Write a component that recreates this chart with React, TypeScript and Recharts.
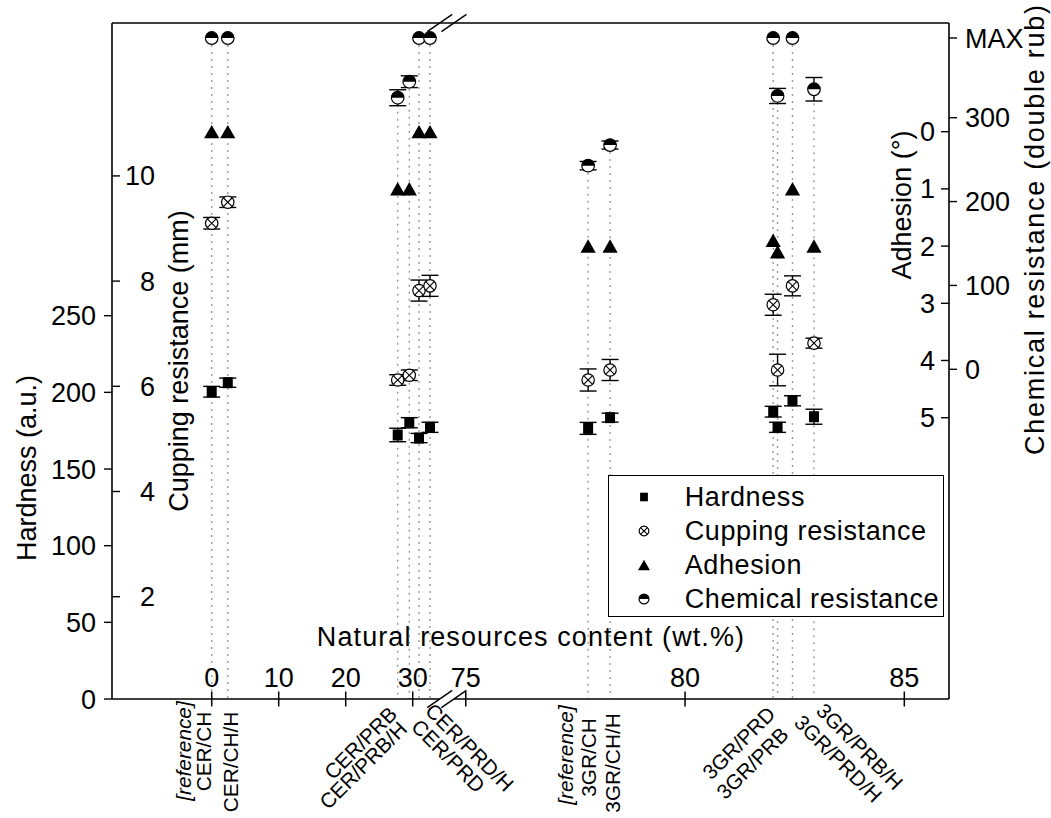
import React from 'react';
import { ScatterChart, Scatter, XAxis, YAxis, ErrorBar, ReferenceLine, Legend } from 'recharts';

// ---------------- data ----------------
const SAMPLES = ['CER/CH', 'CER/CH/H', 'CER/PRB', 'CER/PRB/H', 'CER/PRD', 'CER/PRD/H', '3GR/CH', '3GR/CH/H', '3GR/PRD', '3GR/PRB', '3GR/PRD/H', '3GR/PRB/H'];
const CONTENT = [0, 2.4, 27.76, 29.49, 30.94, 32.58, 77.79, 78.29, 82.01, 82.11, 82.45, 82.94];
const HARDNESS = [200.4, 206.3, 172.2, 180.2, 170.2, 177.2, 176.5, 183.5, 187.4, 177.2, 194.5, 184.1];
const HARDNESS_ERR = [3.5, 3, 4.4, 3.3, 3, 3.3, 3.9, 2.9, 3.5, 3.3, 3.3, 4.9];
const CUPPING = [9.1, 9.5, 6.12, 6.21, 7.82, 7.91, 6.12, 6.31, 7.55, 6.31, 7.91, 6.82];
const CUPPING_ERR = [0.11, 0.1, 0.1, 0.1, 0.2, 0.2, 0.21, 0.2, 0.2, 0.3, 0.19, 0.095];
const ADHESION = [0, 0, 1, 1, 0, 0, 2, 2, 1.9, 2.1, 1, 2];
const CHEM_MAX = 395;
const CHEMICAL = [CHEM_MAX, CHEM_MAX, 323.8, 342.9, CHEM_MAX, CHEM_MAX, 242.8, 267.4, CHEM_MAX, 325.9, CHEM_MAX, 333.9];
const CHEMICAL_ERR = [0, 0, 9.5, 7, 0, 0, 5, 4.8, 0, 9, 0, 14];

const SAMPLE_LABELS = [
  ['[reference]', 'CER/CH'], ['CER/CH/H'], ['CER/PRB'], ['CER/PRB/H'], ['CER/PRD'], ['CER/PRD/H'],
  ['[reference]', '3GR/CH'], ['3GR/CH/H'], ['3GR/PRD'], ['3GR/PRB'], ['3GR/PRD/H'], ['3GR/PRB/H'],
];

const X_TICKS = [0, 10, 20, 30, 75, 80, 85];
const HARDNESS_TICKS = [0, 50, 100, 150, 200, 250];
const CUPPING_TICKS = [2, 4, 6, 8, 10];
const ADHESION_TICKS = [0, 1, 2, 3, 4, 5];
const CHEM_TICKS = [0, 100, 200, 300, CHEM_MAX];
const CHEM_TICK_LABELS = ['0', '100', '200', '300', 'MAX'];

const SERIES_NAMES = ['Hardness', 'Cupping resistance', 'Adhesion', 'Chemical resistance'];

// ---------------- broken x scale ----------------
const BREAK_WT = 50;
const RIGHT_START = 75;
const RIGHT_OFFSET = 37.92;
const RIGHT_RATIO = 6.545;
const brokenX = (wt: number) => (wt < BREAK_WT ? wt : RIGHT_OFFSET + (wt - RIGHT_START) * RIGHT_RATIO);
const X_DOMAIN: [number, number] = [-14.88, 110.04];
const BREAK_MARKS = [34.03, 36.15];
const SLASH_DX = 1.87;
const SLASH_DY = 5.67;

const HARD_DOMAIN: [number, number] = [0, 440.9];
const CUP_DOMAIN: [number, number] = [0.055, 12.907];
const ADH_DOMAIN: [number, number] = [-1.9, 9.918];
const CHEM_DOMAIN: [number, number] = [-393.1, 412.9];

const X_TICKS_U = X_TICKS.map(brokenX);
const SAMPLE_U = CONTENT.map(brokenX);

const hardData = SAMPLES.map((s, i) => ({ name: s, x: SAMPLE_U[i], y: HARDNESS[i], err: HARDNESS_ERR[i] }));
const cupData = SAMPLES.map((s, i) => ({ name: s, x: SAMPLE_U[i], y: CUPPING[i], err: CUPPING_ERR[i] }));
const adhData = SAMPLES.map((s, i) => ({ name: s, x: SAMPLE_U[i], y: ADHESION[i] }));
const chemData = SAMPLES.map((s, i) => ({ name: s, x: SAMPLE_U[i], y: CHEMICAL[i], err: CHEMICAL_ERR[i] }));

// ---------------- styles ----------------
const FONT = '"Liberation Sans", Arial, Helvetica, sans-serif';
const FS = 27;
const LABEL_FS = 20.8;
const AXIS_STROKE = '#000';

const LABEL_LAYOUT: { rot: number; anchor: string; base: string; off: number[][] }[] = [
  { rot: -90, anchor: 'middle', base: 'central', off: [[-28.4, 52], [-8.4, 52.5]] },
  { rot: -90, anchor: 'end', base: 'central', off: [[2.3, 12.7]] },
  { rot: -45, anchor: 'end', base: 'alphabetic', off: [[0.6, 16.5]] },
  { rot: -45, anchor: 'end', base: 'alphabetic', off: [[-1, 31.5]] },
  { rot: 45, anchor: 'start', base: 'alphabetic', off: [[-9, 29]] },
  { rot: 45, anchor: 'start', base: 'alphabetic', off: [[-6, 13]] },
  { rot: -90, anchor: 'middle', base: 'central', off: [[-22.5, 56], [0.7, 58.5]] },
  { rot: -90, anchor: 'end', base: 'central', off: [[2.5, 14.3]] },
  { rot: -45, anchor: 'end', base: 'alphabetic', off: [[3.4, 16.5]] },
  { rot: -45, anchor: 'end', base: 'alphabetic', off: [[12.3, 37]] },
  { rot: 45, anchor: 'start', base: 'alphabetic', off: [[0.6, 24.8]] },
  { rot: 45, anchor: 'start', base: 'alphabetic', off: [[1, 13]] },
];

function marker(kind: string, cx: number, cy: number, s = 1) {
  if (cx == null || cy == null || isNaN(cx) || isNaN(cy)) return <g />;
  switch (kind) {
    case 'hard':
      return <rect x={cx - 5 * s} y={cy - 5.5 * s} width={10 * s} height={11 * s} fill="#000" />;
    case 'cup': {
      const r = 6.2 * s;
      const d = r * 0.72;
      return (
        <g>
          <circle cx={cx} cy={cy} r={r} fill="#fff" stroke="#000" strokeWidth={1.2} />
          <line x1={cx - d} y1={cy - d} x2={cx + d} y2={cy + d} stroke="#000" strokeWidth={1.1} />
          <line x1={cx - d} y1={cy + d} x2={cx + d} y2={cy - d} stroke="#000" strokeWidth={1.1} />
        </g>
      );
    }
    case 'adh':
      return <path d={`M${cx},${cy - 6.8 * s} L${cx + 7.6 * s},${cy + 6.6 * s} L${cx - 7.6 * s},${cy + 6.6 * s} Z`} fill="#000" />;
    default: {
      const r = 6.3 * s;
      return (
        <g>
          <circle cx={cx} cy={cy} r={r} fill="#fff" stroke="#000" strokeWidth={1.2} />
          <path d={`M${cx - r},${cy} A${r},${r} 0 0 1 ${cx + r},${cy} Z`} fill="#000" />
        </g>
      );
    }
  }
}

const KIND_BY_NAME: Record<string, string> = {
  Hardness: 'hard',
  'Cupping resistance': 'cup',
  Adhesion: 'adh',
  'Chemical resistance': 'chem',
};

const findIndex = (arr: number[], v: number) => {
  let best = 0;
  arr.forEach((a, i) => {
    if (Math.abs(a - v) < Math.abs(arr[best] - v)) best = i;
  });
  return best;
};

const XNumTick = (props: any) => {
  const { x, y, payload } = props;
  const i = findIndex(X_TICKS_U, payload.value);
  return (
    <g>
      <line x1={x} y1={y - 7.5} x2={x} y2={y + 7.5} stroke="#000" strokeWidth={1.5} />
      <text x={x} y={y - 12} textAnchor="middle" fontSize={FS} fontFamily={FONT} fill="#000">
        {X_TICKS[i]}
      </text>
    </g>
  );
};

const SampleTick = (props: any) => {
  const { x, y, payload } = props;
  const i = findIndex(SAMPLE_U, payload.value);
  const lay = LABEL_LAYOUT[i];
  return (
    <g>
      {SAMPLE_LABELS[i].map((t, k) => (
        <text
          key={k}
          transform={`translate(${x + lay.off[k][0]},${y + lay.off[k][1]}) rotate(${lay.rot})`}
          textAnchor={lay.anchor as any}
          dominantBaseline={lay.base as any}
          fontStyle={t.startsWith('[') ? 'italic' : 'normal'}
          fontSize={LABEL_FS}
          fontFamily={FONT}
          fill="#000"
        >
          {t}
        </text>
      ))}
    </g>
  );
};

const CupTick = (props: any) => {
  const { x, y, payload } = props;
  return (
    <text x={x + 35} y={y} dy="0.355em" textAnchor="end" fontSize={FS} fontFamily={FONT} fill="#000">
      {payload.value}
    </text>
  );
};

const ChemTick = (props: any) => {
  const { x, y, payload } = props;
  const i = findIndex(CHEM_TICKS, payload.value);
  return (
    <text x={x} y={y} dy="0.355em" textAnchor="start" fontSize={FS} fontFamily={FONT} fill="#000">
      {CHEM_TICK_LABELS[i]}
    </text>
  );
};

const vText = (cx: number, cy: number, txt: string, len?: number) => (
  <text
    transform={`translate(${cx},${cy}) rotate(-90)`}
    textAnchor="middle"
    dominantBaseline="central"
    fontSize={FS}
    fontFamily={FONT}
    fill="#000"
    {...(len ? { textLength: len, lengthAdjust: 'spacing' } : {})}
  >
    {txt}
  </text>
);

const renderLegend = () => (
  <div
    style={{
      width: 336,
      height: 142,
      border: '1.5px solid #000',
      boxSizing: 'border-box',
      background: '#fff',
      fontFamily: FONT,
      paddingTop: 3.5,
    }}
  >
    {SERIES_NAMES.map((n) => (
      <div key={n} style={{ height: 34, display: 'flex', alignItems: 'center' }}>
        <svg width={72} height={34} style={{ flex: 'none' }}>
          {marker(KIND_BY_NAME[n], 35, 17, 0.78)}
        </svg>
        <span style={{ fontSize: FS, letterSpacing: 0.6, lineHeight: '34px', color: '#000', whiteSpace: 'nowrap', marginLeft: 4 }}>{n}</span>
      </div>
    ))}
  </div>
);

const lineProps = { stroke: AXIS_STROKE, strokeWidth: 1.6, ifOverflow: 'visible' as const };

export default function App() {
  const top = HARD_DOMAIN[1];
  return (
    <div style={{ position: 'absolute', left: 0, top: 0, width: 1051, height: 818, background: '#fff', overflow: 'hidden' }}>
      <ScatterChart width={1051} height={818} margin={{ top: 23, right: 12, bottom: 0, left: 12 }}>
        <XAxis
          xAxisId="wt"
          type="number"
          dataKey="x"
          domain={X_DOMAIN}
          allowDataOverflow
          ticks={X_TICKS_U}
          interval={0}
          mirror
          orientation="bottom"
          axisLine={false}
          tickLine={false}
          tickSize={0}
          tickMargin={0}
          tick={(p: any) => <XNumTick {...p} />}
          label={() => (
            <text x={531} y={646} textAnchor="middle" fontSize={FS} fontFamily={FONT} letterSpacing={1.1} fill="#000">
              Natural resources content (wt.%)
            </text>
          )}
        />
        <XAxis
          xAxisId="lab"
          type="number"
          dataKey="x"
          domain={X_DOMAIN}
          allowDataOverflow
          ticks={SAMPLE_U}
          interval={0}
          orientation="bottom"
          height={119}
          axisLine={false}
          tickLine={false}
          tickSize={0}
          tickMargin={0}
          tick={(p: any) => <SampleTick {...p} />}
        />
        <YAxis
          yAxisId="hard"
          type="number"
          dataKey="y"
          orientation="left"
          width={100}
          domain={HARD_DOMAIN}
          allowDataOverflow
          ticks={HARDNESS_TICKS}
          interval={0}
          tickSize={8}
          tickMargin={8}
          axisLine={{ stroke: AXIS_STROKE, strokeWidth: 1.6 }}
          tickLine={{ stroke: AXIS_STROKE, strokeWidth: 1.4 }}
          tick={{ fontSize: FS, fontFamily: FONT, fill: '#000' }}
          label={() => vText(26.7, 468, 'Hardness (a.u.)')}
        />
        <YAxis
          yAxisId="cup"
          type="number"
          dataKey="y"
          orientation="left"
          mirror
          domain={CUP_DOMAIN}
          allowDataOverflow
          ticks={CUPPING_TICKS}
          interval={0}
          tickSize={8}
          tickMargin={0}
          axisLine={false}
          tickLine={{ stroke: AXIS_STROKE, strokeWidth: 1.4 }}
          tick={(p: any) => <CupTick {...p} />}
          label={() => vText(179, 361, 'Cupping resistance (mm)')}
        />
        <YAxis
          yAxisId="adh"
          type="number"
          dataKey="y"
          orientation="right"
          mirror
          reversed
          domain={ADH_DOMAIN}
          allowDataOverflow
          ticks={ADHESION_TICKS}
          interval={0}
          tickSize={8}
          tickMargin={6}
          axisLine={false}
          tickLine={{ stroke: AXIS_STROKE, strokeWidth: 1.4 }}
          tick={{ fontSize: FS, fontFamily: FONT, fill: '#000' }}
          label={() => vText(901.7, 205, 'Adhesion (°)')}
        />
        <YAxis
          yAxisId="chem"
          type="number"
          dataKey="y"
          orientation="right"
          width={90}
          domain={CHEM_DOMAIN}
          allowDataOverflow
          ticks={CHEM_TICKS}
          interval={0}
          tickSize={8}
          tickMargin={8}
          axisLine={{ stroke: AXIS_STROKE, strokeWidth: 1.6 }}
          tickLine={{ stroke: AXIS_STROKE, strokeWidth: 1.4 }}
          tick={(p: any) => <ChemTick {...p} />}
          label={() => vText(1035, 230, 'Chemical resistance (double rub)', 450)}
        />

        {SAMPLES.map((s, i) => (
          <ReferenceLine
            key={`guide-${s}`}
            xAxisId="wt"
            yAxisId="chem"
            segment={[{ x: SAMPLE_U[i], y: CHEMICAL[i] }, { x: SAMPLE_U[i], y: CHEM_DOMAIN[0] }]}
            stroke="#9a9a9a"
            strokeWidth={1.4}
            strokeDasharray="2 5"
            ifOverflow="visible"
          />
        ))}

        <ReferenceLine xAxisId="wt" yAxisId="hard" segment={[{ x: X_DOMAIN[0], y: top }, { x: X_DOMAIN[1], y: top }]} {...lineProps} />
        <ReferenceLine xAxisId="wt" yAxisId="hard" segment={[{ x: X_DOMAIN[0], y: 0 }, { x: BREAK_MARKS[0], y: 0 }]} {...lineProps} />
        <ReferenceLine xAxisId="wt" yAxisId="hard" segment={[{ x: BREAK_MARKS[1], y: 0 }, { x: X_DOMAIN[1], y: 0 }]} {...lineProps} />
        {[0, top].flatMap((yv) =>
          BREAK_MARKS.map((b) => (
            <ReferenceLine
              key={`slash-${yv}-${b}`}
              xAxisId="wt"
              yAxisId="hard"
              segment={[{ x: b - SLASH_DX, y: yv - SLASH_DY }, { x: b + SLASH_DX, y: yv + SLASH_DY }]}
              stroke="#000"
              strokeWidth={1.4}
              ifOverflow="visible"
            />
          ))
        )}

        <Scatter name="Hardness" data={hardData} xAxisId="wt" yAxisId="hard" isAnimationActive={false} shape={(p: any) => marker('hard', p.cx, p.cy)}>
          <ErrorBar dataKey="err" direction="y" width={8.5} stroke="#000" strokeWidth={1.4} />
        </Scatter>
        <Scatter name="Cupping resistance" data={cupData} xAxisId="wt" yAxisId="cup" isAnimationActive={false} shape={(p: any) => marker('cup', p.cx, p.cy)}>
          <ErrorBar dataKey="err" direction="y" width={8.5} stroke="#000" strokeWidth={1.4} />
        </Scatter>
        <Scatter name="Adhesion" data={adhData} xAxisId="wt" yAxisId="adh" isAnimationActive={false} shape={(p: any) => marker('adh', p.cx, p.cy)} />
        <Scatter name="Chemical resistance" data={chemData} xAxisId="wt" yAxisId="chem" isAnimationActive={false} shape={(p: any) => marker('chem', p.cx, p.cy)}>
          <ErrorBar dataKey="err" direction="y" width={8.5} stroke="#000" strokeWidth={1.4} />
        </Scatter>

        <Legend layout="vertical" align="center" verticalAlign="middle" wrapperStyle={{ left: 607.7, top: 475, width: 336, height: 142 }} content={renderLegend} />
      </ScatterChart>
    </div>
  );
}
